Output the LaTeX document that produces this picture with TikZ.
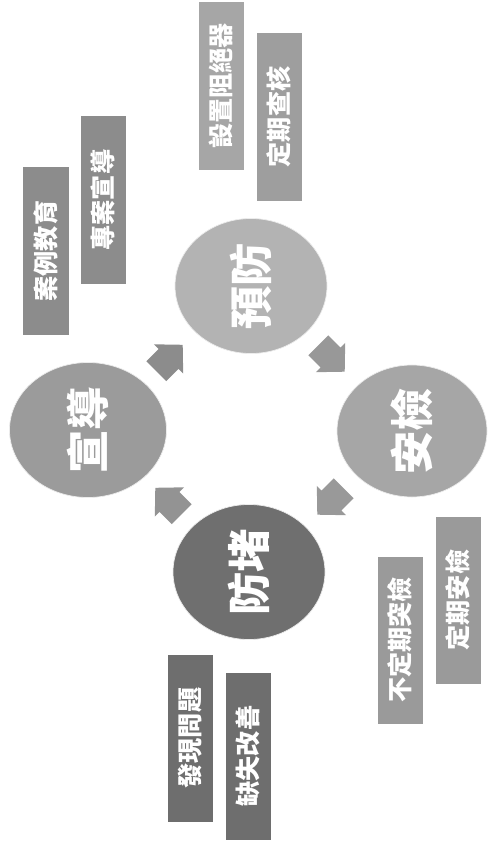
\documentclass[tikz,border=0pt]{standalone}
\usepackage{fontspec}
\newfontfamily\cjk{Noto Sans CJK TC}
\usetikzlibrary{shapes.geometric,calc}
\definecolor{yfC}{HTML}{B3B3B3}
\definecolor{xdC}{HTML}{9B9B9B}
\definecolor{ajC}{HTML}{A6A6A6}
\definecolor{fdC}{HTML}{6F6F6F}
\definecolor{tagA}{HTML}{8C8C8C}
\definecolor{tagB}{HTML}{A6A6A6}
\definecolor{tagC}{HTML}{6E6E6E}
\definecolor{tagD}{HTML}{9A9A9A}
\begin{document}
\begin{tikzpicture}[x=0.03cm,y=-0.03cm,
  stage/.style={ellipse, inner sep=0pt, text=white, draw=white!85!gray, line width=0.6pt,
    font=\cjk\bfseries\fontsize{37}{37}\selectfont},
  tag/.style={rectangle, inner sep=0pt, minimum width=1.35cm, minimum height=5.01cm,
    text=white, font=\cjk\bfseries\fontsize{21.5}{21.5}\selectfont},
  flowarrow/.style={line join=miter}]
\useasboundingbox (0,0) rectangle (490,850);
% stages
\node[stage, fill=yfC, minimum width=4.56cm, minimum height=4.05cm] (yf) at (251,286) {\rotatebox{90}{預防}};
\node[stage, fill=xdC, minimum width=4.71cm, minimum height=4.05cm] (xd) at (88,430) {\rotatebox{90}{宣導}};
\node[stage, fill=ajC, minimum width=4.50cm, minimum height=3.96cm] (aj) at (412,431) {\rotatebox{90}{安檢}};
\node[stage, fill=fdC, minimum width=4.56cm, minimum height=4.05cm] (fd) at (249,572) {\rotatebox{90}{防堵}};
% flow arrows (block arrows between stages)
\coordinate (m1) at ($(xd)!0.5!(yf)$);
\coordinate (m2) at ($(yf)!0.5!(aj)$);
\coordinate (m3) at ($(aj)!0.5!(fd)$);
\coordinate (m4) at ($(fd)!0.5!(xd)$);
\def\blockarrow{(0.56cm,0cm) -- (-0.04cm,0.62cm) -- (-0.04cm,0.42cm) -- (-0.56cm,0.42cm)
  -- (-0.56cm,-0.42cm) -- (-0.04cm,-0.42cm) -- (-0.04cm,-0.62cm) -- cycle}
\fill[flowarrow, fill=tagA, shift={(m1)}, rotate=45] \blockarrow;
\fill[flowarrow, fill=yfC!85!black, shift={(m2)}, rotate=-45] \blockarrow;
\fill[flowarrow, fill=ajC!92!black, shift={(m3)}, rotate=-135] \blockarrow;
\fill[flowarrow, fill=fdC!75!white, shift={(m4)}, rotate=135] \blockarrow;
% tags
\node[tag, fill=tagA] (t1) at (46,251) {\rotatebox{90}{案例教育}};
\node[tag, fill=tagA] (t2) at (103,200) {\rotatebox{90}{專案宣導}};
\node[tag, fill=tagB] (t3) at (221,86) {\rotatebox{90}{設置阻絕器}};
\node[tag, fill=tagB!95!black] (t4) at (279,117) {\rotatebox{90}{定期查核}};
\node[tag, fill=tagC] (t5) at (190,738) {\rotatebox{90}{發現問題}};
\node[tag, fill=tagC] (t6) at (248,756) {\rotatebox{90}{缺失改善}};
\node[tag, fill=tagD] (t7) at (400,640) {\rotatebox{90}{不定期突檢}};
\node[tag, fill=tagD] (t8) at (458,600) {\rotatebox{90}{定期安檢}};
\end{tikzpicture}
\end{document}
